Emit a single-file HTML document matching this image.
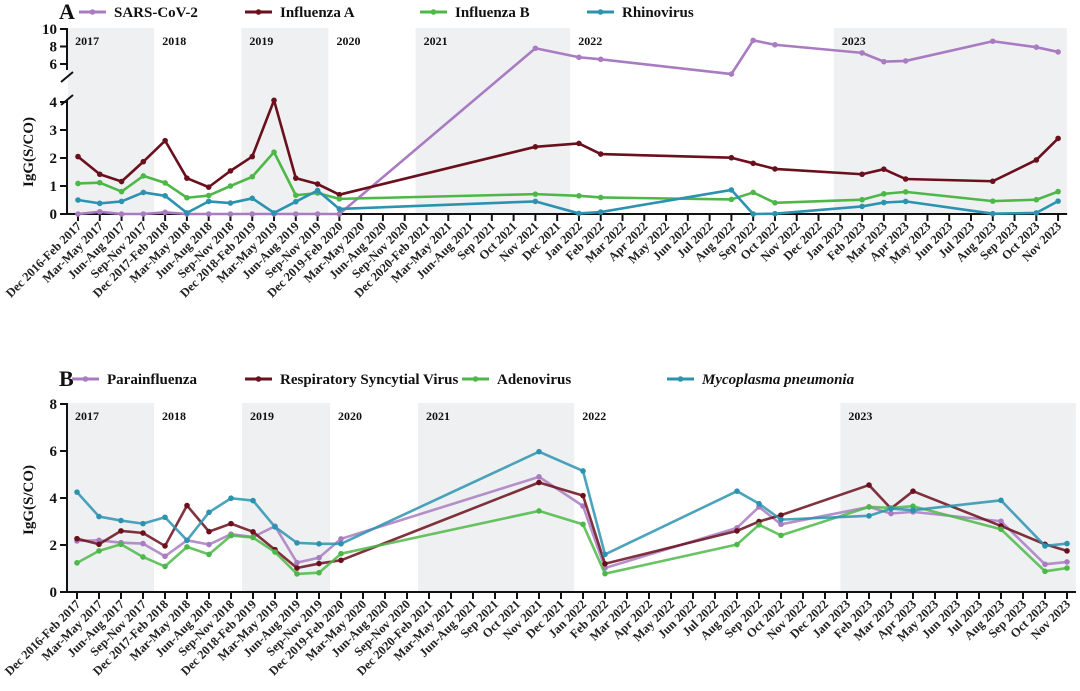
<!DOCTYPE html>
<html><head><meta charset="utf-8">
<style>
html,body{margin:0;padding:0;background:#fff;}
svg{display:block;font-family:"Liberation Serif",serif;}
</style></head>
<body>
<svg id="chart" width="1080" height="691" viewBox="0 0 1080 691"></svg>
<script>
const categories = ["Dec 2016-Feb 2017","Mar-May 2017","Jun-Aug 2017","Sep-Nov 2017","Dec 2017-Feb 2018","Mar-May 2018","Jun-Aug 2018","Sep-Nov 2018","Dec 2018-Feb 2019","Mar-May 2019","Jun-Aug 2019","Sep-Nov 2019","Dec 2019-Feb 2020","Mar-May 2020","Jun-Aug 2020","Sep-Nov 2020","Dec 2020-Feb 2021","Mar-May 2021","Jun-Aug 2021","Sep 2021","Oct 2021","Nov 2021","Dec 2021","Jan 2022","Feb 2022","Mar 2022","Apr 2022","May 2022","Jun 2022","Jul 2022","Aug 2022","Sep 2022","Oct 2022","Nov 2022","Dec 2022","Jan 2023","Feb 2023","Mar 2023","Apr 2023","May 2023","Jun 2023","Jul 2023","Aug 2023","Sep 2023","Oct 2023","Nov 2023"];
const sampledIdx = [0,1,2,3,4,5,6,7,8,9,10,11,12,21,23,24,30,31,32,36,37,38,42,44,45];
// Panel A series (values at sampledIdx)
const sarsCov2 = [0,0.08,0,0,0.06,0,0,0,0,0,0,0,0,7.8,6.77,6.54,4.85,8.7,8.2,7.27,6.27,6.35,8.6,7.92,7.38];
const influenzaA = [2.05,1.42,1.16,1.87,2.62,1.28,0.96,1.54,2.05,4.06,1.28,1.07,0.69,2.4,2.52,2.14,2.01,1.81,1.61,1.42,1.6,1.25,1.17,1.93,2.7];
const influenzaB = [1.09,1.12,0.8,1.36,1.11,0.58,0.66,1.0,1.33,2.21,0.67,0.75,0.54,0.71,0.65,0.59,0.52,0.77,0.4,0.51,0.72,0.79,0.46,0.51,0.8];
const rhinovirus = [0.5,0.38,0.45,0.77,0.65,0.04,0.45,0.39,0.56,0.04,0.44,0.84,0.18,0.45,0.02,0.07,0.86,0,0.01,0.27,0.41,0.45,0.01,0.04,0.46];
// Panel B series
const parainfluenza = [2.17,2.2,2.1,2.06,1.52,2.2,2.02,2.46,2.34,2.8,1.25,1.46,2.26,4.9,3.66,1.02,2.73,3.62,2.88,3.62,3.34,3.41,3.01,1.18,1.28];
const rsv = [2.27,2.03,2.6,2.51,1.96,3.68,2.57,2.91,2.56,1.8,1.02,1.21,1.35,4.66,4.1,1.2,2.6,3.0,3.27,4.55,3.55,4.29,2.81,2.03,1.75];
const adenovirus = [1.24,1.75,2.03,1.49,1.09,1.92,1.6,2.4,2.32,1.7,0.77,0.82,1.63,3.45,2.88,0.78,2.02,2.86,2.41,3.62,3.58,3.65,2.67,0.88,1.02];
const mycoplasma = [4.25,3.21,3.04,2.91,3.18,2.2,3.39,3.99,3.89,2.77,2.09,2.05,2.05,5.97,5.15,1.6,4.29,3.76,3.08,3.24,3.55,3.48,3.9,1.96,2.06];
const ticksALower = [0,1,2,3,4];
const ticksAUpper = [6,8,10];
const ticksB = [0,2,4,6,8];
const years = ["2017","2018","2019","2020","2021","2022","2023"];
const yearStartIdx = [-0.5,3.5,7.5,11.5,15.5,22.6,34.7];
const shadedYears = [0,2,4,6];

const NS="http://www.w3.org/2000/svg";
const svg=document.getElementById('chart');
function mk(tag,attrs,parent){const e=document.createElementNS(NS,tag);for(const k in attrs)e.setAttribute(k,attrs[k]);(parent||svg).appendChild(e);return e;}
const COL={purple:"#a97cc2",red:"#6a0f1c",green:"#4db848",teal:"#2b93b0"};

function drawPanel(p){
  const g=mk('g',{});
  
  
  const xEnd=p.x(45)+9;
  shadedYears.forEach(i=>{
    const x0=Math.max(p.x(yearStartIdx[i]),p.axisX+1), x1=Math.min(p.x(yearStartIdx[i+1]!==undefined?yearStartIdx[i+1]:45.4),xEnd);
    const r=mk('rect',{x:x0,y:p.top,width:x1-x0,height:p.base-p.top,fill:"#eff0f2"},g);
    
    
  });
  years.forEach((yr,i)=>{
    const t=mk('text',{x:Math.max(p.x(yearStartIdx[i]),p.axisX)+8,y:p.top+17,'font-size':12,'font-weight':'bold',fill:'#111'},g);
    t.textContent=yr;
    
    
  });
  const xa=mk('line',{x1:p.axisX,y1:p.base,x2:xEnd,y2:p.base,stroke:'#111','stroke-width':2},g);
  
  
  categories.forEach((c,i)=>{
    const x=p.x(i);
    mk('line',{x1:x,y1:p.base,x2:x,y2:p.base+7,stroke:'#111','stroke-width':2},g);
    const t=mk('text',{x:0,y:0,'font-size':12.5,'font-weight':'bold','text-anchor':'end',fill:'#222',transform:`translate(${x+4},${p.base+13}) rotate(-45)`},g);
    t.textContent=c;
    
    
  });
  p.series.forEach(s=>{
    const pts=s.vals.map((v,k)=>[p.x(sampledIdx[k]),p.y(v)]);
    const pl=mk('polyline',{points:pts.map(q=>q.join(',')).join(' '),fill:'none',stroke:s.color,'stroke-width':2.6,'stroke-linejoin':'round','stroke-opacity':p.op},g);
    
    
    pts.forEach(q=>{
      const c=mk('circle',{cx:q[0],cy:q[1],r:2.8,fill:s.color},g);
      
      
    });
  });
  mk('text',{x:p.legX,y:p.legY+7,'font-size':22,'font-weight':'bold',fill:'#111'},g).textContent=p.letter;
  p.series.forEach(s=>{
    const lg=mk('g',{},g);
    
    
    mk('line',{x1:s.lx,y1:p.legY,x2:s.lx+27,y2:p.legY,stroke:s.color,'stroke-width':3},lg);
    mk('circle',{cx:s.lx+13.5,cy:p.legY,r:2.8,fill:s.color},lg);
    const t=mk('text',{x:s.lx+35,y:p.legY+5,'font-size':15,'font-weight':'bold',fill:'#111','font-style':s.italic?'italic':'normal'},lg);
    t.textContent=s.label;
  });
  const yt=mk('text',{x:0,y:0,'font-size':15,'font-weight':'bold','text-anchor':'middle',fill:'#111',transform:`translate(33,${p.yTitleY}) rotate(-90)`},g);
  yt.textContent='IgG(S/CO)';
  
  
  return g;
}
function yTick(g,x,y,label){
  mk('line',{x1:x-7,y1:y,x2:x,y2:y,stroke:'#111','stroke-width':2},g);
  const t=mk('text',{x:x-10,y:y+5,'font-size':15,'font-weight':'bold','text-anchor':'end',fill:'#111'},g);
  t.textContent=label;
  
  
}

const xA=i=>78+i*21.78;
const yA=v=> v<=4.3 ? 214-v*28 : 64-(v-6)*8.75;
const gA=drawPanel({name:'panel-a',letter:'A',x:xA,y:yA,base:214,top:28,axisX:67,legX:59,legY:12,yTitleY:152,op:1,
 series:[
  {key:'sars-cov-2',label:'SARS-CoV-2',vals:sarsCov2,color:COL.purple,lx:79},
  {key:'influenza-a',label:'Influenza A',vals:influenzaA,color:COL.red,lx:245},
  {key:'influenza-b',label:'Influenza B',vals:influenzaB,color:COL.green,lx:420},
  {key:'rhinovirus',label:'Rhinovirus',vals:rhinovirus,color:COL.teal,lx:587}]});
mk('line',{x1:67,y1:28,x2:67,y2:70,stroke:'#111','stroke-width':2},gA);
mk('line',{x1:67,y1:100,x2:67,y2:215,stroke:'#111','stroke-width':2},gA);
mk('line',{x1:61,y1:82,x2:73,y2:72,stroke:'#111','stroke-width':2},gA);
mk('line',{x1:61,y1:105,x2:73,y2:95,stroke:'#111','stroke-width':2},gA);
ticksALower.forEach(v=>yTick(gA,67,yA(v),v));
ticksAUpper.forEach(v=>yTick(gA,67,yA(v),v));

const xB=i=>77+i*22;
const yB=v=>592-v*23.5;
const gB=drawPanel({name:'panel-b',letter:'B',x:xB,y:yB,base:592,top:403,axisX:67,legX:59,legY:379,yTitleY:500,op:0.85,
 series:[
  {key:'parainfluenza',label:'Parainfluenza',vals:parainfluenza,color:COL.purple,lx:72},
  {key:'rsv',label:'Respiratory Syncytial Virus',vals:rsv,color:COL.red,lx:245},
  {key:'adenovirus',label:'Adenovirus',vals:adenovirus,color:COL.green,lx:462},
  {key:'mycoplasma',label:'Mycoplasma pneumonia',vals:mycoplasma,color:COL.teal,lx:667,italic:true}]});
mk('line',{x1:67,y1:403,x2:67,y2:593,stroke:'#111','stroke-width':2},gB);
ticksB.forEach(v=>yTick(gB,67,yB(v),v));
</script>
</body></html>
